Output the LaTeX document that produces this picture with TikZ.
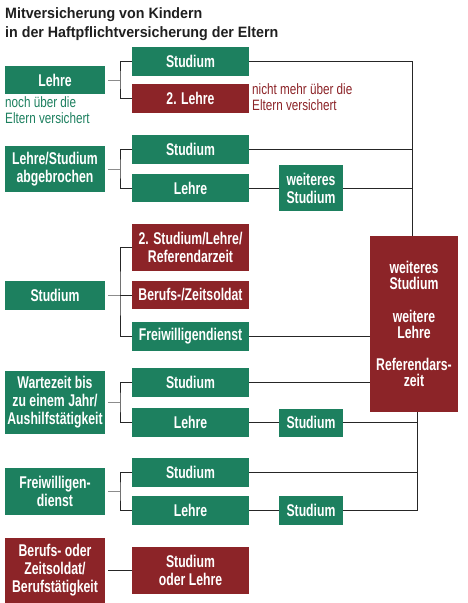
\documentclass[tikz,border=0pt]{standalone}
\usepackage{fontspec}
\setmainfont{Liberation Sans}
\newfontfamily\boxfont[FakeStretch=0.72]{Liberation Sans}
\newfontfamily\annfont[FakeStretch=0.78]{Liberation Sans}
\newfontfamily\titlefont[FakeStretch=0.95]{Liberation Sans}
\definecolor{grn}{RGB}{29,128,95}
\definecolor{rd}{RGB}{140,36,40}
\begin{document}
\begin{tikzpicture}[x=1pt,y=-1pt,
  cbox/.style={inner sep=0pt, outer sep=0pt, text=white, align=center,
    font=\boxfont\bfseries\fontsize{17}{18}\selectfont},
  gbox/.style={cbox, fill=grn},
  rbox/.style={cbox, fill=rd},
  lw/.style={minimum width=100pt},
  mw/.style={minimum width=117pt},
  tw/.style={minimum width=64pt},
  link/.style={draw=black!85, line width=0.9pt},
  stub/.style={draw=black!45, line width=0.9pt},
  ann/.style={inner sep=0pt, align=left, font=\annfont\fontsize{15}{16}\selectfont},
  ttl/.style={anchor=base west, inner sep=0pt, text=black!88, font=\titlefont\bfseries\fontsize{15}{16}\selectfont},
]
\useasboundingbox (0,0) rectangle (467,603);

% title
\node[ttl] (t1) at (5,18) {Mitversicherung von Kindern};
\node[ttl] (t2) at (5,37.5) {in der Haftpflichtversicherung der Eltern};

% big box
\node[rbox, minimum width=88pt, minimum height=176pt, font=\boxfont\bfseries\fontsize{17}{16.5}\selectfont] (big) at (414,324)
  {weiteres\\Studium\\[16pt]weitere\\Lehre\\[15pt]Referendars-\\zeit};
\coordinate (vtop) at ([xshift=-2pt]big.north);
\coordinate (vbot) at ([xshift=3pt]big.south);

% row 1
\node[gbox, lw, minimum height=28pt] (L1) at (55,80) {Lehre};
\node[gbox, mw, minimum height=29pt] (M1a) at (190.5,61.5) {Studium};
\node[rbox, mw, minimum height=29pt] (M1b) at (190.5,98.5) {2. Lehre};
\node[ann, text=grn, anchor=north west] (n1) at (5,96) {noch über die\\Eltern versichert};
\node[ann, text=rd, anchor=north west] (n2) at (252,83) {nicht mehr über die\\Eltern versichert};

% row 2
\node[gbox, lw, minimum height=46pt] (L2) at (55,169) {Lehre/Studium\\abgebrochen};
\node[gbox, mw, minimum height=29pt] (M2a) at (190.5,149.5) {Studium};
\node[gbox, mw, minimum height=28pt] (M2b) at (190.5,188) {Lehre};
\node[gbox, tw, minimum height=46pt] (T2) at (311,188) {weiteres\\Studium};

% row 3
\node[rbox, mw, minimum height=47pt] (M3a) at (190.5,247.5) {2. Studium/Lehre/\\Referendarzeit};
\node[gbox, lw, minimum height=29pt] (L3) at (55,295) {Studium};
\node[rbox, mw, minimum height=28pt] (M3b) at (190.5,295) {Berufs-/Zeitsoldat};
\node[gbox, mw, minimum height=29pt] (M3c) at (190.5,336.5) {Freiwilligendienst};

% row 4
\node[gbox, lw, minimum height=63pt] (L4) at (55,402.5) {Wartezeit bis\\zu einem Jahr/\\Aushilfstätigkeit};
\node[gbox, mw, minimum height=29pt] (M4a) at (190.5,382.5) {Studium};
\node[gbox, mw, minimum height=29pt] (M4b) at (190.5,422.5) {Lehre};
\node[gbox, tw, minimum height=28pt] (T4) at (311,422.5) {Studium};

% row 5
\node[gbox, lw, minimum height=47pt] (L5) at (55,491.5) {Freiwilligen-\\dienst};
\node[gbox, mw, minimum height=29pt] (M5a) at (190.5,472.5) {Studium};
\node[gbox, mw, minimum height=29pt] (M5b) at (190.5,510.5) {Lehre};
\node[gbox, tw, minimum height=29pt] (T5) at (311,510.5) {Studium};

% row 6
\node[rbox, lw, minimum height=65pt] (L6) at (55,570.5) {Berufs- oder\\Zeitsoldat/\\Berufstätigkeit};
\node[rbox, mw, minimum height=47pt] (M6) at (190.5,570.5) {Studium\\oder Lehre};

% junctions
\coordinate (j1) at ([xshift=15pt]L1.east);
\coordinate (j2) at ([xshift=15pt]L2.east);
\coordinate (j3) at ([xshift=15pt]L3.east);
\coordinate (j4) at ([xshift=15pt]L4.east);
\coordinate (j5) at ([xshift=15pt]L5.east);

% stubs
\draw[stub] ([xshift=3pt]L1.east) -- (j1);
\draw[stub] ([xshift=3pt]L2.east) -- (j2);
\draw[stub] ([xshift=3pt]L3.east) -- (j3);
\draw[stub] ([xshift=3pt]L4.east) -- (j4);
\draw[stub] ([xshift=3pt]L5.east) -- (j5);
\draw[link] ([xshift=3pt]L6.east) -- (M6.west);

% branches
\draw[link] (M1a.west) -| (j1) |- (M1b.west);
\draw[link] (M2a.west) -| (j2) |- (M2b.west);
\draw[link] (M3a.west) -| (j3) |- (M3c.west);
\draw[link] (j3) -- (M3b.west);
\draw[link] (M4a.west) -| (j4) |- (M4b.west);
\draw[link] (M5a.west) -| (j5) |- (M5b.west);

% to the right
\draw[link] (M1a.east) -| (vtop);
\draw[link] (M2a.east) -- (M2a.east -| vtop);
\draw[link] (M2b.east) -- (T2.west);
\draw[link] (T2.east) -- (T2.east -| vtop);
\draw[link] (M3c.east) -- (M3c.east -| big.west);
\draw[link] (M4a.east) -- (M4a.east -| big.west);
\draw[link] (M4b.east) -- (T4.west);
\draw[link] (M5b.east) -- (T5.west);
\draw[link] (T5.east) -| (vbot);
\draw[link] (T4.east) -- (T4.east -| vbot);
\draw[link] (M5a.east) -- (M5a.east -| vbot);
\end{tikzpicture}
\end{document}
